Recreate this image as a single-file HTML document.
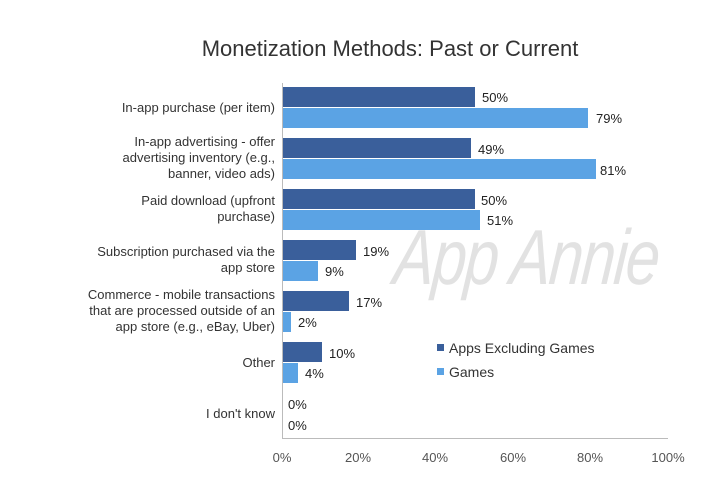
<!DOCTYPE html>
<html><head><style>
body{margin:0;background:#fff;font-family:"Liberation Sans",sans-serif;}
.t{position:absolute;font-size:13px;color:#222;white-space:nowrap}
.c{position:absolute;text-align:right;right:445px;font-size:13px;color:#333;line-height:16px;white-space:nowrap}
.b{position:absolute;left:283px;height:20px}
.d{background:#3a5f9b}.l{background:#5ba3e4}
</style></head><body>
<div style="position:relative;width:720px;height:499px;overflow:hidden">
<div style="position:absolute;left:0;width:780px;top:36px;text-align:center;font-size:22px;color:#333">Monetization Methods: Past or Current</div>
<div style="position:absolute;left:398px;top:212px;font-size:78px;font-style:italic;color:#e2e2e2;letter-spacing:-2px;white-space:nowrap;transform-origin:0 0;transform:scaleX(0.78) skewX(-6deg)">App Annie</div>
<div style="position:absolute;left:282px;top:83px;width:1px;height:356px;background:#bbb"></div>
<div style="position:absolute;left:282px;top:438px;width:386px;height:1px;background:#bbb"></div>
<div class="b d" style="top:87px;width:192px"></div><div class="b l" style="top:108px;width:305px"></div>
<div class="b d" style="top:138px;width:188px"></div><div class="b l" style="top:159px;width:313px"></div>
<div class="b d" style="top:189px;width:192px"></div><div class="b l" style="top:210px;width:197px"></div>
<div class="b d" style="top:240px;width:73px"></div><div class="b l" style="top:261px;width:35px"></div>
<div class="b d" style="top:291px;width:66px"></div><div class="b l" style="top:312px;width:8px"></div>
<div class="b d" style="top:342px;width:39px"></div><div class="b l" style="top:363px;width:15px"></div>
<div class="t" style="left:482px;top:90px">50%</div><div class="t" style="left:596px;top:111px">79%</div>
<div class="t" style="left:478px;top:142px">49%</div><div class="t" style="left:600px;top:163px">81%</div>
<div class="t" style="left:481px;top:193px">50%</div><div class="t" style="left:487px;top:213px">51%</div>
<div class="t" style="left:363px;top:244px">19%</div><div class="t" style="left:325px;top:264px">9%</div>
<div class="t" style="left:356px;top:295px">17%</div><div class="t" style="left:298px;top:315px">2%</div>
<div class="t" style="left:329px;top:346px">10%</div><div class="t" style="left:305px;top:366px">4%</div>
<div class="t" style="left:288px;top:397px">0%</div><div class="t" style="left:288px;top:418px">0%</div>
<div class="c" style="top:100px">In-app purchase (per item)</div>
<div class="c" style="top:134px">In-app advertising - offer<br>advertising inventory (e.g.,<br>banner, video ads)</div>
<div class="c" style="top:193px">Paid download (upfront<br>purchase)</div>
<div class="c" style="top:244px">Subscription purchased via the<br>app store</div>
<div class="c" style="top:287px">Commerce - mobile transactions<br>that are processed outside of an<br>app store (e.g., eBay, Uber)</div>
<div class="c" style="top:355px">Other</div>
<div class="c" style="top:406px">I don't know</div>
<div style="position:absolute;left:437px;top:344px;width:7px;height:7px" class="d"></div>
<div class="t" style="left:449px;top:340px;font-size:14px;color:#333">Apps Excluding Games</div>
<div style="position:absolute;left:437px;top:368px;width:7px;height:7px" class="l"></div>
<div class="t" style="left:449px;top:364px;font-size:14px;color:#333">Games</div>
<div class="t" style="left:267px;top:450px;width:30px;text-align:center;color:#555">0%</div>
<div class="t" style="left:340px;top:450px;width:36px;text-align:center;color:#555">20%</div>
<div class="t" style="left:417px;top:450px;width:36px;text-align:center;color:#555">40%</div>
<div class="t" style="left:495px;top:450px;width:36px;text-align:center;color:#555">60%</div>
<div class="t" style="left:572px;top:450px;width:36px;text-align:center;color:#555">80%</div>
<div class="t" style="left:646px;top:450px;width:44px;text-align:center;color:#555">100%</div>
</div></body></html>
